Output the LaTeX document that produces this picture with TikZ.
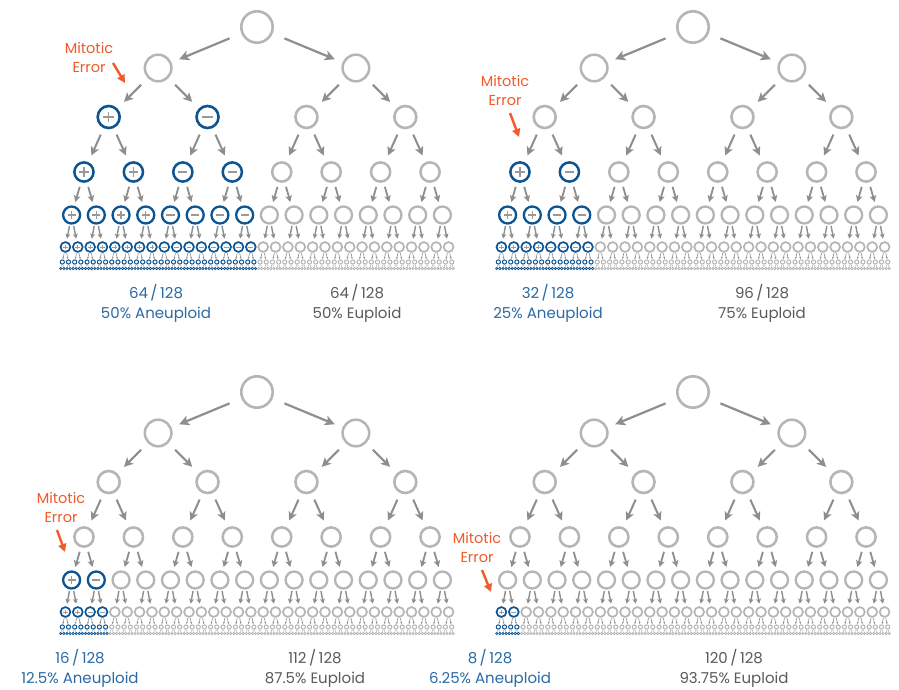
\documentclass[tikz,border=0pt]{standalone}
\usepackage{fontspec}
\setmainfont{Poppins}
\usetikzlibrary{arrows.meta}
\definecolor{cellgray}{HTML}{B5B5B5}
\definecolor{splitgray}{HTML}{8E8E8E}
\definecolor{aneublue}{HTML}{0D5592}
\definecolor{fracblue}{HTML}{2B6AA6}
\definecolor{fracgray}{HTML}{5A5A5A}
\definecolor{errorred}{HTML}{F15A2B}
\tikzset{
  cell/.style={circle, draw=cellgray, inner sep=0pt, outer sep=0pt},
  eu/.style={},
  aneu/.style={draw=aneublue},
  lv0/.style={minimum size=31.4pt, line width=2.6pt},
  lv1/.style={minimum size=26.6pt, line width=2.5pt},
  lv2/.style={minimum size=22pt, line width=2.6pt},
  lv3/.style={minimum size=19.2pt, line width=2.5pt},
  lv4/.style={minimum size=17pt, line width=2.3pt},
  lv5/.style={minimum size=9.8pt, line width=1.7pt},
  lv6/.style={minimum size=4.2pt, line width=1pt},
  lv7/.style={minimum size=2.4pt, line width=0.7pt},
  split/.style={draw=splitgray},
  sp1/.style={split, line width=2.2pt, -{Stealth[length=10pt,width=10pt,inset=2.5pt]}, shorten <=14pt, shorten >=9.5pt},
  sp2/.style={split, line width=2.1pt, -{Stealth[length=9pt,width=9pt,inset=2.2pt]}, shorten <=10.5pt, shorten >=10.5pt},
  sp3/.style={split, line width=2pt, -{Stealth[length=8.5pt,width=8.5pt,inset=2pt]}, shorten <=8.3pt, shorten >=8.5pt},
  sp4/.style={split, line width=1.8pt, -{Stealth[length=6.5pt,width=6.5pt,inset=1.5pt]}, shorten <=5.8pt, shorten >=5pt},
  sp5/.style={split, line width=1.4pt, -{Stealth[length=4.8pt,width=4.8pt,inset=1pt]}, shorten <=2.6pt, shorten >=3.6pt},
  sp6/.style={split, line width=0.6pt, -{Stealth[length=1.8pt,width=1.8pt,inset=0.4pt]}, shorten <=1.3pt, shorten >=1pt},
  sp7/.style={split, line width=0.4pt, shorten <=1pt, shorten >=0.8pt},
  sign/.style={draw=splitgray!90},
  frac/.style={align=center, font=\fontsize{15}{20}\selectfont},
  errlabel/.style={align=center, text=errorred, font=\fontsize{14.5}{19}\selectfont},
  errarrow/.style={draw=errorred, line width=2.4pt, -{Triangle[length=8pt,width=8pt]}}
}

\begin{document}
\begin{tikzpicture}[x=1pt, y=-1pt]
  \fill[white] (0,0) rectangle (899,690);
  \useasboundingbox (0,0) rectangle (899,690);

  \foreach \p/\cx/\dy/\e in {1/257/0/1, 2/693/0/2, 3/257/365/3, 4/693/365/4}{
    \foreach \k/\y/\h/\t in {0/27/0/0, 1/68/0/0, 2/117/5.2/1.4, 3/172/4.6/1.3, 4/215/4.1/1.2, 5/247/2.4/0.7, 6/262/0/0, 7/268.5/0/0}{
      \pgfmathtruncatemacro\last{2^\k-1}
      \foreach \i in {0,...,\last}{
        \pgfmathsetmacro\x{\cx+(\i-\last/2)*3.09*2^(7-\k)}
        \pgfmathtruncatemacro\isaneu{(\k>\e)&&(\i<2^(\k-\e))}
        \ifnum\isaneu=1 \def\look{aneu}\else\def\look{eu}\fi
        \node[cell, lv\k, \look] (p\p-\k-\i) at (\x,\y+\dy) {};
        \ifnum\k>0\relax
          \pgfmathtruncatemacro\up{floor(\i/2)}
          \pgfmathtruncatemacro\km{\k-1}
          \draw[sp\k] (p\p-\km-\up) -- (p\p-\k-\i);
        \fi
        \ifnum\isaneu=1 \ifnum\k<6\relax
          \pgfmathtruncatemacro\isplus{\i<2^(\k-\e-1)}
          \draw[sign, line width=\t pt] ([xshift=-\h pt]p\p-\k-\i.center) -- ([xshift=\h pt]p\p-\k-\i.center);
          \ifnum\isplus=1
            \draw[sign, line width=\t pt] ([yshift=-\h pt]p\p-\k-\i.center) -- ([yshift=\h pt]p\p-\k-\i.center);
          \fi
        \fi\fi
      }
    }
  }

  % mitotic errors
  \node[errlabel] (err1) at (89,57.5) {Mitotic\\Error};
  \coordinate (err1a) at (113,63);
  \coordinate (err1b) at (125,83);
  \draw[errarrow] (err1a) -- (err1b);
  \node[errlabel] (err2) at (505,91) {Mitotic\\Error};
  \coordinate (err2a) at (510,113);
  \coordinate (err2b) at (519,137);
  \draw[errarrow] (err2a) -- (err2b);
  \node[errlabel] (err3) at (61,507.5) {Mitotic\\Error};
  \coordinate (err3a) at (57,530);
  \coordinate (err3b) at (65,552);
  \draw[errarrow] (err3a) -- (err3b);
  \node[errlabel] (err4) at (477,547.5) {Mitotic\\Error};
  \coordinate (err4a) at (482,570);
  \coordinate (err4b) at (491,592);
  \draw[errarrow] (err4a) -- (err4b);

  % counts
  \node[frac, text=fracblue] (aneu1) at (156,303) {64\,/\,128\\50\% Aneuploid};
  \node[frac, text=fracgray] (eu1) at (357,303) {64\,/\,128\\50\% Euploid};
  \node[frac, text=fracblue] (aneu2) at (548,303) {32\,/\,128\\25\% Aneuploid};
  \node[frac, text=fracgray] (eu2) at (762,303) {96\,/\,128\\75\% Euploid};
  \node[frac, text=fracblue] (aneu3) at (80,668) {16\,/\,128\\12.5\% Aneuploid};
  \node[frac, text=fracgray] (eu3) at (315,668) {112\,/\,128\\87.5\% Euploid};
  \node[frac, text=fracblue] (aneu4) at (490,668) {8\,/\,128\\6.25\% Aneuploid};
  \node[frac, text=fracgray] (eu4) at (734,668) {120\,/\,128\\93.75\% Euploid};
\end{tikzpicture}
\end{document}
